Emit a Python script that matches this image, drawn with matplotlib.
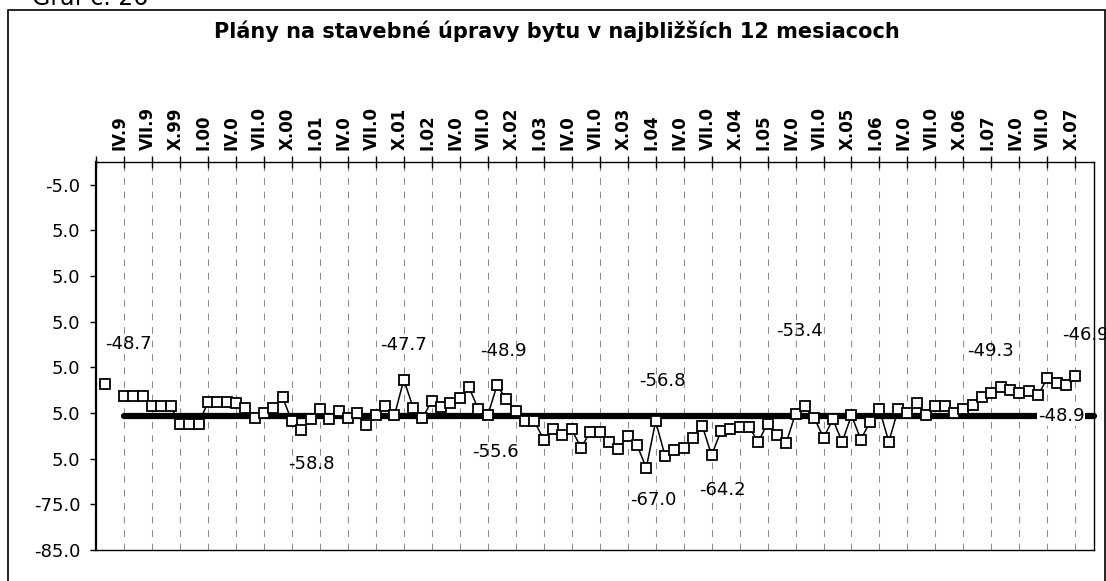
import numpy as np
import matplotlib
matplotlib.use("Agg")
import matplotlib.pyplot as plt
from matplotlib.patches import Rectangle
from matplotlib.transforms import ScaledTranslation

# monthly survey values, category 0 = I.99 ... 107 = XII.07
start_cat = 1
values = [-48.7, np.nan,
          -51.3, -51.3, -51.3, -53.5, -53.5, -53.5, -57.4, -57.4, -57.4,
          -52.6, -52.6, -52.6, -52.9, -53.8, -56.0, -55.0, -53.8, -51.5,
          -56.8, -58.8, -56.4, -54.2, -56.4, -54.5, -56.0, -55.0, -57.7,
          -55.5, -53.5, -55.5, -47.7, -53.8, -56.0, -52.4, -53.7, -52.8,
          -51.8, -49.4, -54.2, -55.5, -48.9, -52.0, -54.5, -56.8, -56.8,
          -60.8, -58.6, -59.9, -58.6, -62.6, -59.1, -59.1, -61.3, -62.9,
          -60.0, -62.0, -67.0, -56.8, -64.3, -63.0, -62.6, -60.4, -57.8,
          -64.2, -59.0, -58.6, -58.0, -58.0, -61.3, -57.3, -59.7, -61.5,
          -55.1, -53.4, -56.0, -60.4, -56.4, -61.3, -55.5, -60.8, -56.9,
          -54.2, -61.3, -54.2, -55.0, -52.8, -55.5, -53.5, -53.5, -55.0,
          -54.2, -53.3, -51.5, -50.6, -49.3, -49.9, -50.6, -50.1, -51.1,
          -47.3, -48.4, -48.9, -46.9]

# average line
avg_value = -55.6
avg_range = [3, 107]
avg_end_label = "-48.9"

tick_labels = ["IV.9", "VII.9", "X.99", "I.00", "IV.0", "VII.0", "X.00",
               "I.01", "IV.0", "VII.0", "X.01", "I.02", "IV.0", "VII.0", "X.02",
               "I.03", "IV.0", "VII.0", "X.03", "I.04", "IV.0", "VII.0", "X.04",
               "I.05", "IV.0", "VII.0", "X.05", "I.06", "IV.0", "VII.0", "X.06",
               "I.07", "IV.0", "VII.0", "X.07"]
ytick_vals = [-5, -15, -25, -35, -45, -55, -65, -75, -85]
ytick_text = ["-5.0", "5.0", "5.0", "5.0", "5.0", "5.0", "5.0", "-75.0", "-85.0"]

# labelled points: category, offset in pixels (dx, dy)
labelled = [(1, 23, 40), (22, 10, -34), (33, 0, 35), (43, 6, 34),
            (59, 7, -32), (60, 7, 40), (66, 11, -35), (76, -5, 75),
            (97, -10, 36), (105, 10, 41)]

cats = np.arange(start_cat, start_cat + len(values))
vals = np.array(values)

fig = plt.figure(figsize=(11.06, 5.81), dpi=100)
ax = fig.add_axes([96 / 1106, 1 - 550 / 581, 998 / 1106, 388 / 581])

# frame around the chart
fig.patches.append(Rectangle((8 / 1106, -0.05), 1097 / 1106, 1.05 - 10 / 581,
                             transform=fig.transFigure, fill=False,
                             edgecolor="black", lw=1.2))

ax.plot(avg_range, [avg_value, avg_value], color="black", lw=4.5,
        solid_capstyle="round", zorder=2, clip_on=False)
ax.plot(cats, vals, color="black", lw=1.1, marker="s", markersize=7.5,
        markerfacecolor="white", markeredgecolor="black", markeredgewidth=1.3,
        zorder=3)

for c, dx, dy in labelled:
    v = vals[c - start_cat]
    ax.annotate(f"{v:.1f}", (c, v), xytext=(dx, dy), textcoords="offset pixels",
                ha="center", va="center", fontsize=13, annotation_clip=False)

ax.annotate(f"{avg_value:.1f}", (42.8, avg_value), xytext=(0, -36),
            textcoords="offset pixels", ha="center", va="center", fontsize=13)
ax.annotate(avg_end_label, (avg_range[1], avg_value), xytext=(-33, 0),
            textcoords="offset pixels", ha="center", va="center", fontsize=13,
            bbox=dict(facecolor="white", edgecolor="none", pad=0.5),
            zorder=5, annotation_clip=False)

ax.set_xlim(0, 107)
ax.set_ylim(-85, 0)

xt = np.arange(0, 106, 3)
ax.set_xticks(xt)
ax.set_xticklabels([""] + tick_labels, rotation=90, fontsize=12, fontweight="bold")
ax.xaxis.tick_top()
ax.tick_params(axis="x", direction="inout", length=9, width=1, pad=4)
shift = ScaledTranslation(-4 / 100, 0, fig.dpi_scale_trans)
for lab in ax.get_xticklabels():
    lab.set_transform(lab.get_transform() + shift)
for x in xt[1:]:
    ax.axvline(x, color="#8c8c8c", lw=0.75, dashes=(6.5, 6.5), zorder=1)

ax.set_yticks(ytick_vals)
ax.set_yticklabels(ytick_text, fontsize=13)
ax.tick_params(axis="y", direction="out", length=4.3, width=1, pad=7)

for s in ax.spines.values():
    s.set_color("black")
    s.set_linewidth(1.0)
ax.spines["left"].set_linewidth(1.6)

fig.text(557 / 1106, 1 - 38 / 581,
         "Plány na stavebné úpravy bytu v najbližších 12 mesiacoch",
         ha="center", va="baseline", fontsize=15, fontweight="bold")
fig.text(32 / 1106, 1 - 5 / 581, "Graf č. 26", ha="left", va="baseline",
         fontsize=17)

fig.savefig("out.png", dpi=100)
